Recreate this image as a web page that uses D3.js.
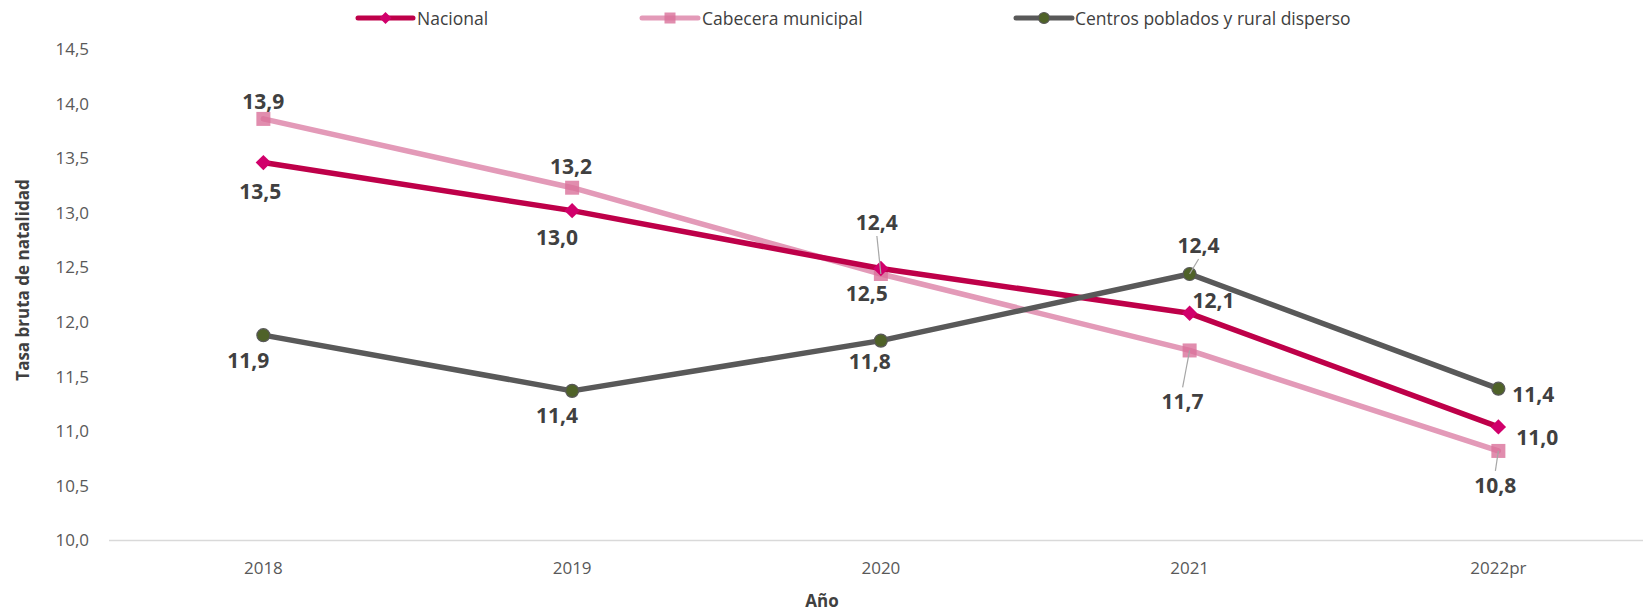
<!DOCTYPE html>
<html><head><meta charset="utf-8">
<script src="https://cdn.jsdelivr.net/npm/d3@7"></script>
<style>
body{margin:0;background:#fff;}
svg{display:block;font-family:"Open Sans",sans-serif;}
</style></head>
<body><svg id="chart" width="1643" height="611"></svg>
<script>
// ---- data ----
const years = ["2018","2019","2020","2021","2022pr"];
const nacional = [13.46, 13.02, 12.49, 12.08, 11.04];
const cabecera = [13.86, 13.23, 12.44, 11.74, 10.82];
const centros  = [11.88, 11.37, 11.83, 12.44, 11.39];
const yTicks = [10.0, 10.5, 11.0, 11.5, 12.0, 12.5, 13.0, 13.5, 14.0, 14.5];
const seriesNames = ["Nacional", "Cabecera municipal", "Centros poblados y rural disperso"];

// label placement (dx, dy of label centre relative to point; leader flag)
const nacionalLbl = [[-3,28,0],[-15,26,0],[-14,24,0],[24,-13,0],[39,10,0]];
const cabeceraLbl = [[0,-18,0],[-1,-22,0],[-4,-52,1],[-7,51,1],[-3,34,1]];
const centrosLbl  = [[-15,25,0],[-15,24,0],[-11,20,0],[9,-29,1],[35,5,0]];

const svg = d3.select("#chart");
const W = 1643;
const x = d3.scaleBand().domain(years).range([109, 109 + 5*308.75]).padding(0);
const y = d3.scaleLinear().domain([10, 14.5]).range([540.5, 49]);
const fmt = v => d3.format(".1f")(v).replace(".", ",");

// x axis
const xa = svg.append("g").attr("transform", "translate(0,540.5)")
  .call(d3.axisBottom(x).tickSize(0).tickPadding(21.5));
xa.select(".domain").remove();
svg.append("line").attr("x1",109).attr("x2",W).attr("y1",540.5).attr("y2",540.5)
  .attr("stroke","#D9D9D9").attr("stroke-width",1.5);
xa.selectAll("text").attr("font-size",17).attr("fill","#595959").attr("font-family","Open Sans");

// y axis
const ya = svg.append("g").attr("transform","translate(109,0)")
  .call(d3.axisLeft(y).tickValues(yTicks).tickSize(0).tickPadding(20).tickFormat(fmt));
ya.select(".domain").remove();
ya.selectAll("text").attr("font-size",17).attr("fill","#595959").attr("font-family","Open Sans");

// axis titles
svg.append("text").attr("transform","translate(22,280) rotate(-90)")
  .attr("text-anchor","middle").attr("dominant-baseline","central")
  .attr("font-size",17).attr("font-weight","bold").attr("fill","#404040")
  .text("Tasa bruta de natalidad");
svg.append("text").attr("x",822).attr("y",600)
  .attr("text-anchor","middle").attr("dominant-baseline","central")
  .attr("font-size",17).attr("font-weight","bold").attr("fill","#404040")
  .text("Año");

const cx = d => x(d) + x.bandwidth()/2;
const line = d3.line().x((d,i)=>cx(years[i])).y(d=>y(d));

const series = [
  {name: seriesNames[1], vals: cabecera, lbl: cabeceraLbl, color:"#E39AB8", mcol:"#D9709A", mop:0.8, shape:"square"},
  {name: seriesNames[0], vals: nacional, lbl: nacionalLbl, color:"#BE0049", mcol:"#D1006B", mop:1, shape:"diamond"},
  {name: seriesNames[2], vals: centros, lbl: centrosLbl, color:"#595959", mcol:"#4F6228", mop:1, shape:"circle"}
];

function marker(g, shape, col, op, px, py, s){
  if(shape==="square"){
    g.append("rect").attr("x",px-s/2).attr("y",py-s/2).attr("width",s).attr("height",s)
      .attr("fill",col).attr("fill-opacity",op);
  } else if(shape==="diamond"){
    const r = s*0.55;
    g.append("path").attr("d",`M${px},${py-r}L${px+r},${py}L${px},${py+r}L${px-r},${py}Z`)
      .attr("fill",col);
  } else {
    g.append("circle").attr("cx",px).attr("cy",py).attr("r",s/2)
      .attr("fill",col).attr("stroke","#595959").attr("stroke-width",1.2);
  }
}

series.forEach(s=>{
  svg.append("path").datum(s.vals).attr("d",line).attr("fill","none")
    .attr("stroke",s.color).attr("stroke-width",5.5).attr("stroke-linejoin","round").attr("stroke-linecap","round");
  const g = svg.append("g");
  s.vals.forEach((v,i)=>marker(g, s.shape, s.mcol, s.mop, cx(years[i]), y(v), s.shape==="circle"?13:14));
});

// labels
series.forEach(s=>{
  s.vals.forEach((v,i)=>{
    const px = cx(years[i]), py = y(v);
    const [dx,dy,lead] = s.lbl[i];
    const lx = px+dx, ly = py+dy;
    if(lead){
      const dir = dy<0 ? -1 : 1;
      svg.append("line").attr("x1",px).attr("y1",py)
        .attr("x2",lx).attr("y2",ly - dir*14)
        .attr("stroke","#A6A6A6").attr("stroke-width",1.2);
    }
    svg.append("text").attr("x",lx).attr("y",ly)
      .attr("text-anchor","middle").attr("dominant-baseline","central")
      .attr("font-size",21).attr("font-weight","bold").attr("fill","#404040")
      .text(fmt(v));
  });
});

// legend
const legend = [
  {name: seriesNames[0], x1:358, x2:413, tx:417, color:"#BE0049", mcol:"#D1006B", shape:"diamond"},
  {name: seriesNames[1], x1:642, x2:698, tx:702, color:"#E39AB8", mcol:"#D9709A", shape:"square"},
  {name: seriesNames[2], x1:1016, x2:1072, tx:1075, color:"#595959", mcol:"#4F6228", shape:"circle"}
];
const lg = svg.append("g");
legend.forEach(l=>{
  lg.append("line").attr("x1",l.x1).attr("x2",l.x2).attr("y1",18).attr("y2",18)
    .attr("stroke",l.color).attr("stroke-width",5).attr("stroke-linecap","round");
  marker(lg, l.shape, l.mcol, 0.8, (l.x1+l.x2)/2, 18, 11);
  lg.append("text").attr("x",l.tx).attr("y",18).attr("dominant-baseline","central")
    .attr("font-size",17.5).attr("fill","#404040").text(l.name);
});
</script></body></html>
